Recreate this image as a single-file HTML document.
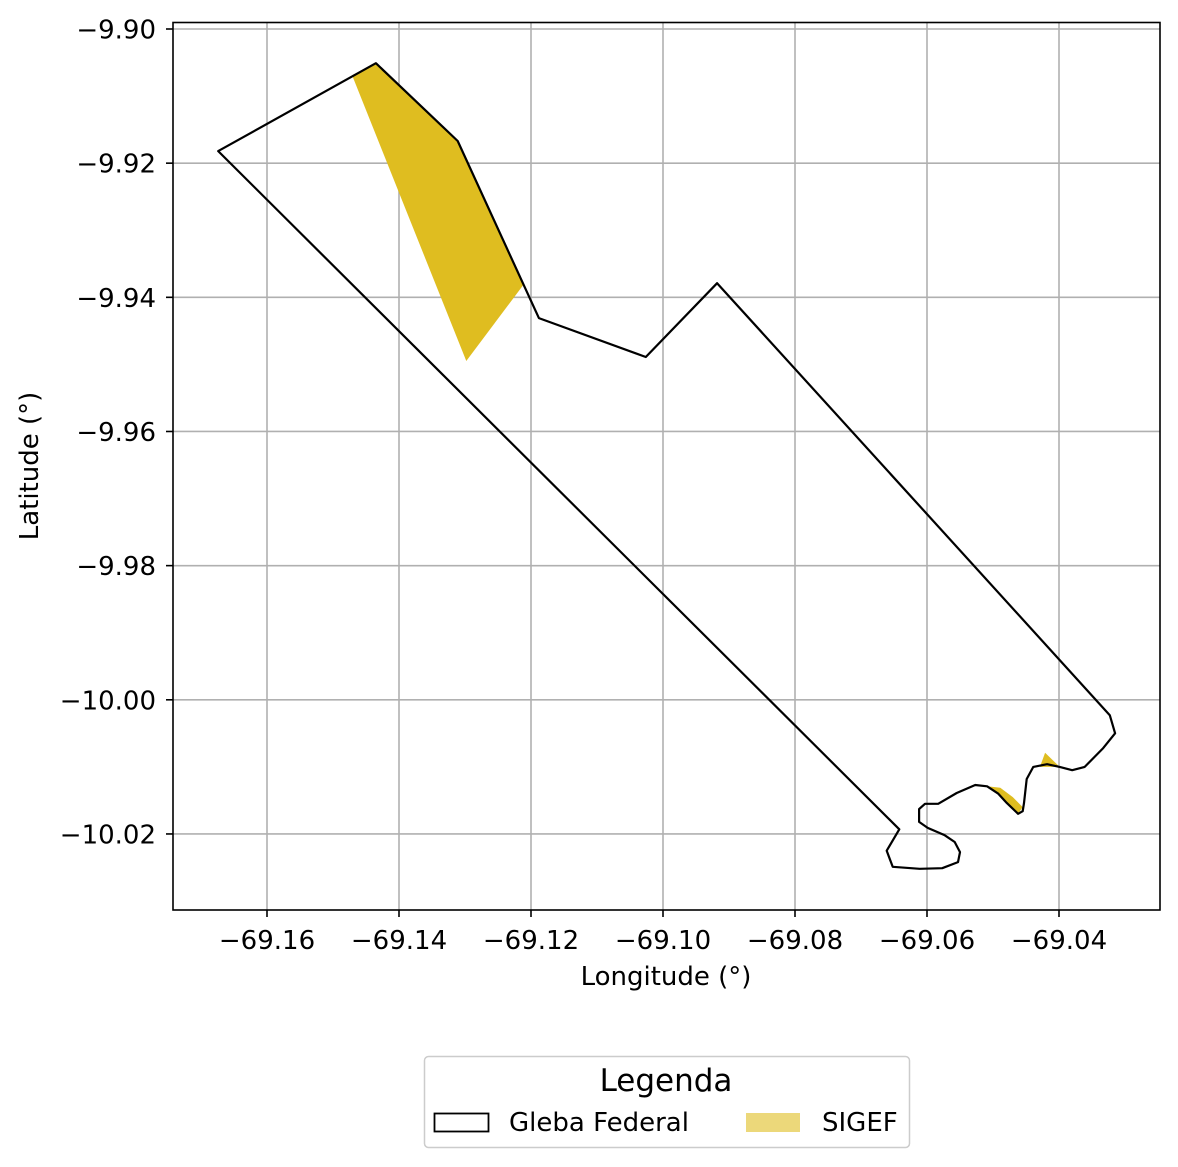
<!DOCTYPE html>
<html><head><meta charset="utf-8"><style>
html,body{margin:0;padding:0;background:#fff;}
svg{display:block;font-family:"DejaVu Sans","Liberation Sans",sans-serif;}
</style></head><body>
<svg id="chart" width="1178" height="1167" viewBox="0 0 1178 1167" xmlns="http://www.w3.org/2000/svg">
<rect width="1178" height="1167" fill="#fff"/>
<g id="grid"></g>
<g id="marks"></g>
<rect x="173" y="22.5" width="987" height="887.5" fill="none" stroke="#000" stroke-width="1.6"/>
<g id="ticks"></g>
<text x="666" y="985" font-size="26" text-anchor="middle">Longitude (°)</text>
<text transform="translate(38,466) rotate(-90)" font-size="26" text-anchor="middle">Latitude (°)</text>
<g>
<rect x="424.5" y="1056.5" width="485" height="91" rx="4" fill="#fff" stroke="#ccc" stroke-width="1.5"/>
<text x="666" y="1091" font-size="31" text-anchor="middle">Legenda</text>
<g>
<rect x="434.5" y="1113.5" width="54" height="18" fill="#fff" stroke="#000" stroke-width="1.8"/>
<text x="509" y="1131" font-size="26">Gleba Federal</text>
</g>
<g>
<rect x="746" y="1113" width="54" height="19" fill="#ecd87a"/>
<text x="822" y="1131" font-size="26">SIGEF</text>
</g>
</g>
</svg>
<script>
const xTicks = [-69.16, -69.14, -69.12, -69.10, -69.08, -69.06, -69.04];
const xTickLabels = ["\u221269.16","\u221269.14","\u221269.12","\u221269.10","\u221269.08","\u221269.06","\u221269.04"];
const yTicks = [-9.90, -9.92, -9.94, -9.96, -9.98, -10.00, -10.02];
const yTickLabels = ["\u22129.90","\u22129.92","\u22129.94","\u22129.96","\u22129.98","\u221210.00","\u221210.02"];
const glebaLon = [-69.1674,-69.1435,-69.1311,-69.1188,-69.1026,-69.0918,-69.0323,-69.0315,-69.0333,-69.0361,-69.0380,-69.0399,-69.0418,-69.0439,-69.0449,-69.0453,-69.0455,-69.0462,-69.0479,-69.0492,-69.0509,-69.0527,-69.0555,-69.0583,-69.0603,-69.0612,-69.0612,-69.0599,-69.0573,-69.0558,-69.0550,-69.0553,-69.0577,-69.0611,-69.0652,-69.0661,-69.0642];
const glebaLat = [-9.9182,-9.9051,-9.9167,-9.9431,-9.9489,-9.9379,-10.0023,-10.0050,-10.0072,-10.0100,-10.0105,-10.0100,-10.0096,-10.0100,-10.0118,-10.0154,-10.0166,-10.0170,-10.0154,-10.0140,-10.0129,-10.0127,-10.0139,-10.0155,-10.0155,-10.0163,-10.0182,-10.0191,-10.0202,-10.0212,-10.0227,-10.0242,-10.0251,-10.0252,-10.0249,-10.0225,-10.0193];
const sigef1Lon = [-69.1471,-69.1435,-69.1311,-69.1212,-69.1298];
const sigef1Lat = [-9.9069,-9.9051,-9.9167,-9.9382,-9.9495];
const sigef2Lon = [-69.0509,-69.0489,-69.0470,-69.0455,-69.0462,-69.0479,-69.0492];
const sigef2Lat = [-10.0129,-10.0131,-10.0145,-10.0160,-10.0170,-10.0154,-10.0140];
const sigef3Lon = [-69.0429,-69.0421,-69.0399];
const sigef3Lat = [-10.0100,-10.0079,-10.0100];

const NS="http://www.w3.org/2000/svg";
function sx(lon){return 267+(lon+69.16)*6600;}
function sy(lat){return 29+(-9.90-lat)*6708;}
const grid=document.getElementById('grid'),ticks=document.getElementById('ticks'),marks=document.getElementById('marks');
function mk(tag,attrs,parent){const e=document.createElementNS(NS,tag);for(const k in attrs)e.setAttribute(k,attrs[k]);parent.appendChild(e);return e;}
xTicks.forEach((v,i)=>{
  const x=sx(v);
  const g=mk('line',{x1:x,x2:x,y1:22.5,y2:910,stroke:'#b0b0b0','stroke-width':1.6},grid);
  
  
  const t=mk('line',{x1:x,x2:x,y1:910,y2:917,stroke:'#000','stroke-width':1.6},ticks);
  
  
  const l=mk('text',{x:x,y:949,'font-size':26,'text-anchor':'middle'},ticks);
  l.textContent=xTickLabels[i];
  
  
});
yTicks.forEach((v,i)=>{
  const y=sy(v);
  const g=mk('line',{x1:173,x2:1160,y1:y,y2:y,stroke:'#b0b0b0','stroke-width':1.6},grid);
  
  
  const t=mk('line',{x1:166,x2:173,y1:y,y2:y,stroke:'#000','stroke-width':1.6},ticks);
  
  
  const l=mk('text',{x:156,y:y+9.5,'font-size':26,'text-anchor':'end'},ticks);
  l.textContent=yTickLabels[i];
  
  
});
function pts(lons,lats){return lons.map((v,i)=>sx(v).toFixed(1)+','+sy(lats[i]).toFixed(1)).join(' ');}
const s1=mk('polygon',{points:pts(sigef1Lon,sigef1Lat),fill:'#dfbd20'},marks);


const s2=mk('polygon',{points:pts(sigef2Lon,sigef2Lat),fill:'#dfbd20'},marks);


const s3=mk('polygon',{points:pts(sigef3Lon,sigef3Lat),fill:'#dfbd20'},marks);


const gl=mk('polygon',{points:pts(glebaLon,glebaLat),fill:'none',stroke:'#000','stroke-width':2.2,'stroke-linejoin':'round'},marks);


</script>
</body></html>
